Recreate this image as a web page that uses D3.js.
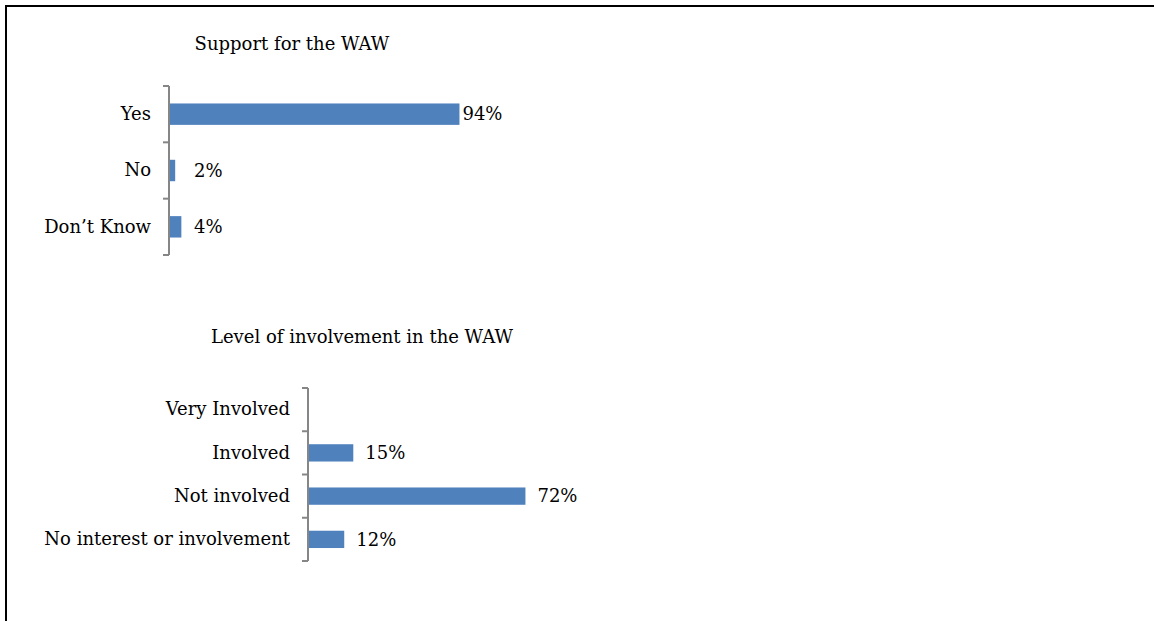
<!DOCTYPE html>
<html>
<head>
<meta charset="utf-8">
<script src="https://cdn.jsdelivr.net/npm/d3@7"></script>
<style>
  html, body { margin: 0; padding: 0; background: #fff; }
  svg { display: block; }
  text { font-family: "DejaVu Serif", "Liberation Serif", serif; fill: #000; }
</style>
</head>
<body>
<svg id="chart" width="1154" height="621"></svg>
<script>
// ---- data ----
const supportTitle = "Support for the WAW";
const supportCategories = ["Yes", "No", "Don\u2019t Know"];
const supportValues = [94, 2, 4];

const involvementTitle = "Level of involvement in the WAW";
const involvementCategories = ["Very Involved", "Involved ", "Not involved", "No interest or involvement"];
const involvementValues = [null, 15, 72, 12];

// ---- drawing ----
const svg = d3.select("#chart");
const barColor = "#4F81BD";
const axisColor = "#868686";
const fontSize = "18px";
const fontFamily = '"DejaVu Serif", "Liberation Serif", serif';

// frame (top and left edges visible)
svg.append("line").attr("x1", 5).attr("x2", 1154).attr("y1", 6).attr("y2", 6)
  .attr("stroke", "#000").attr("stroke-width", 2);
svg.append("line").attr("x1", 6).attr("x2", 6).attr("y1", 5).attr("y2", 621)
  .attr("stroke", "#000").attr("stroke-width", 2);

function panel(opts) {
  const g = svg.append("g");
  const n = opts.categories.length;
  const y = d3.scaleBand()
    .domain(opts.categories)
    .range([opts.top, opts.bottom])
    .paddingInner(opts.pad)
    .paddingOuter(opts.pad / 2);
  const x = d3.scaleLinear().domain([0, 100]).range([opts.left, opts.left + opts.pxPer100]);

  // title
  g.append("text")
    .attr("x", opts.titleX).attr("y", opts.titleY)
    .attr("text-anchor", "middle")
    .style("font-size", fontSize)
    .text(opts.title);

  // bars
  const data = opts.categories.map((c, i) => ({ c, v: opts.values[i] }));
  g.selectAll("rect.bar").data(data.filter(d => d.v != null)).enter()
    .append("rect").attr("class", "bar")
    .attr("x", x(0))
    .attr("y", d => y(d.c))
    .attr("width", d => x(d.v) - x(0))
    .attr("height", y.bandwidth())
    .attr("fill", barColor);

  // value labels
  g.selectAll("text.val").data(data.filter(d => d.v != null)).enter()
    .append("text").attr("class", "val")
    .attr("x", d => Math.max(x(d.v) + opts.labelGap, x(0) + 25))
    .attr("y", d => y(d.c) + y.bandwidth() / 2)
    .attr("dy", "0.35em")
    .style("font-size", fontSize)
    .text(d => d.v + "%");

  // category labels via axis
  const ax = g.append("g")
    .attr("transform", `translate(${x(0)},0)`)
    .call(d3.axisLeft(y).tickSize(0).tickPadding(18));
  ax.select(".domain").remove();
  ax.selectAll("text")
    .style("font-size", fontSize)
    .style("font-family", fontFamily)
    .attr("fill", "#000");

  // axis line + boundary ticks (Excel style)
  const step = y.step();
  const bounds = d3.range(n + 1).map(i => opts.top + i * step);
  g.append("line")
    .attr("x1", x(0)).attr("x2", x(0))
    .attr("y1", opts.top).attr("y2", opts.bottom)
    .attr("stroke", axisColor).attr("stroke-width", 2);
  g.selectAll("line.tick").data(bounds).enter()
    .append("line").attr("class", "tick")
    .attr("x1", x(0) - 6).attr("x2", x(0))
    .attr("y1", d => d).attr("y2", d => d)
    .attr("stroke", axisColor).attr("stroke-width", 2);
}

panel({
  title: supportTitle, categories: supportCategories, values: supportValues,
  titleX: 292, titleY: 50,
  top: 86, bottom: 255, left: 169, pxPer100: 309, pad: 0.62, labelGap: 3
});

panel({
  title: involvementTitle, categories: involvementCategories, values: involvementValues,
  titleX: 362, titleY: 343,
  top: 388, bottom: 561, left: 308, pxPer100: 302, pad: 0.6, labelGap: 12
});
</script>
</body>
</html>
